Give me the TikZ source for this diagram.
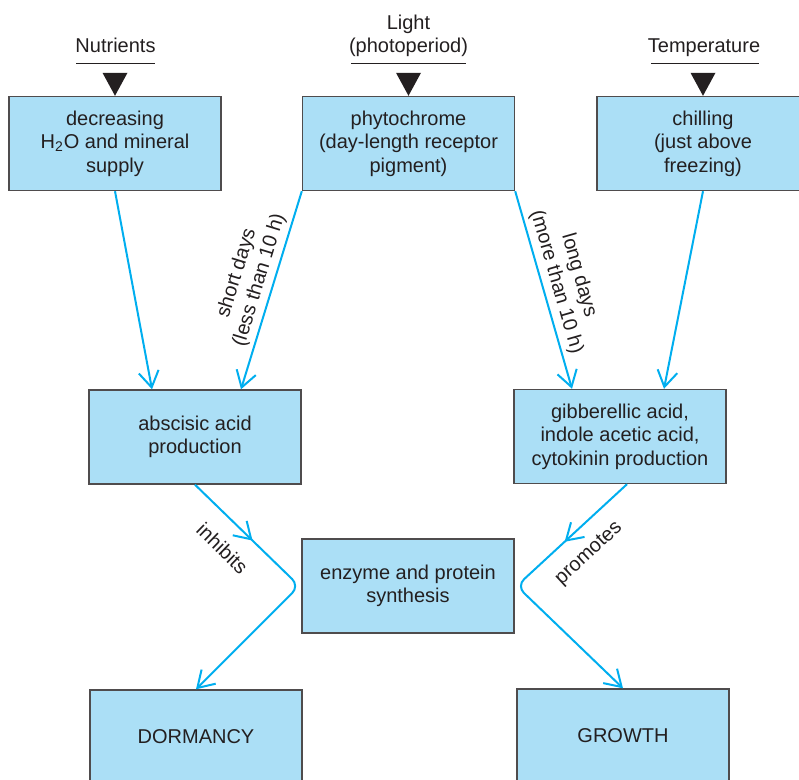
\documentclass[tikz,border=0pt]{standalone}
\usepackage{fontspec}
\setmainfont{Liberation Sans}
\usetikzlibrary{positioning,arrows.meta,decorations.markings}

\definecolor{boxblue}{RGB}{171,223,246}
\definecolor{flowcyan}{RGB}{0,174,239}
\definecolor{inkgray}{RGB}{35,31,32}

\begin{document}
\begin{tikzpicture}[x=0.5pt,y=-0.5pt,
	every node/.style={font=\fontsize{10}{11.8}\selectfont,text=inkgray,align=center},
	factor/.style={text depth=2.1pt},
	box/.style={draw=inkgray!80,line width=0.7pt,fill=boxblue,minimum width=106pt,minimum height=47pt,inner sep=0pt},
	flow/.style={flowcyan,line width=1pt,-{Straight Barb[length=8pt,width=10pt]}},
	midarrow/.style={postaction={decorate},decoration={markings,mark=at position #1 with {\arrow{Straight Barb[length=8pt,width=10pt]}}}},
	rule/.style={inkgray,line width=0.5pt}]
	\useasboundingbox (0,0) rectangle (799,780);
	\clip (0,0) rectangle (799,780);

	% Factors along the top
	\node[factor,anchor=south] (nutr) at (115.5,64) {Nutrients};
	\node[factor,anchor=south] (light) at (408.5,64) {Light\\(photoperiod)};
	\node[factor,anchor=south] (temp) at (704,64) {Temperature};
	\draw[rule] (76,64) -- (155,64);
	\draw[rule] (351,64) -- (466,64);
	\draw[rule] (651,64) -- (759,64);

	% Boxes
	\node[box] (decr) at (115,143.5) {decreasing\\H\textsubscript{2}O and mineral\\supply};
	\node[box] (phyto) at (408.5,143.5) {phytochrome\\(day-length receptor\\pigment)};
	\node[box] (chill) at (703,143.5) {chilling\\(just above\\freezing)};
	\node[box] (absc) at (195,437) {abscisic acid\\production};
	\node[box] (gibb) at (620,436.5) {gibberellic acid,\\indole acetic acid,\\cytokinin production};
	\node[box] (enzy) at (408,586) {enzyme and protein\\synthesis};
	\node[box] (dorm) at (196,737) {DORMANCY};
	\node[box] (grow) at (623,736) {GROWTH};

	% black wedges into the top row
	\foreach \n in {decr,phyto,chill}
		\fill[inkgray] (\n.north) -- ++(-12.5,-23) -- ++(25,0) -- cycle;

	% Connectors
	\draw[flow] (decr.south) -- ([xshift=-21.5pt]absc.north);
	\draw[flow] (phyto.south west) -- node[pos=0.47,sloped,above,inner sep=2pt] (short) {short days\\(less than 10 h)} ([xshift=23pt]absc.north);
	\draw[flow] (phyto.south east) -- node[pos=0.48,sloped,above,inner sep=2pt] (long) {long days\\(more than 10 h)} ([xshift=-24pt]gibb.north);
	\draw[flow] (chill.south) -- ([xshift=22pt]gibb.north);

	\draw[flow,rounded corners=5pt,midarrow=0.28] (absc.south) -- node[pos=0.44,sloped,below,inner sep=9pt] (inh) {inhibits} ([xshift=-1pt]enzy.west) -- (dorm.north);
	\draw[flow,rounded corners=5pt,midarrow=0.29] ([xshift=3.5pt]gibb.south) -- node[pos=0.5,sloped,below,inner sep=8pt] (prom) {promotes} ([xshift=1pt]enzy.east) -- (grow.north);
	% \draw[help lines] (0,0) grid (799,780);
\end{tikzpicture}
\end{document}
